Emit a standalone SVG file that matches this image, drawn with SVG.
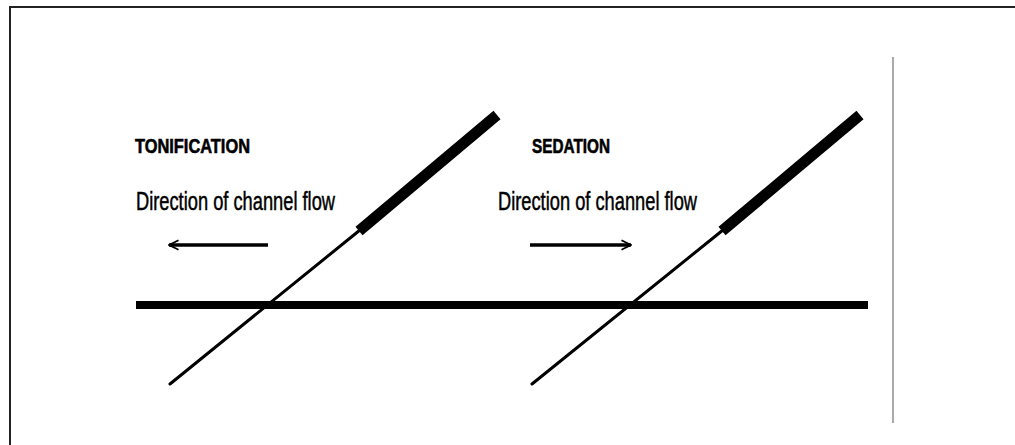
<svg xmlns="http://www.w3.org/2000/svg" width="1015" height="445" viewBox="0 0 1015 445">
  <defs>
    <style>
      .title { font-family: "Liberation Sans", Arial, sans-serif; font-weight: bold; font-size: 20px; fill: #000; stroke: #000; stroke-width: 0.6; }
      .label { font-family: "Liberation Sans", Arial, sans-serif; font-size: 26px; fill: #000; stroke: #000; stroke-width: 0.5; }
      .needle { stroke: #000; stroke-width: 3; stroke-linecap: round; }
      .handle { stroke: #000; stroke-width: 11; stroke-linecap: butt; }
      .flow { stroke: #000; stroke-width: 3.5; fill: none; }
    </style>
    <marker id="chev" viewBox="0 0 10 10" refX="9" refY="5" markerWidth="3.4" markerHeight="3.4" orient="auto-start-reverse" markerUnits="strokeWidth">
      <path d="M1,1 L9,5 L1,9" fill="none" stroke="#000" stroke-width="1.6"/>
    </marker>
  </defs>
  <rect width="1015" height="445" fill="#fff"/>
  <rect x="10" y="7" width="1020" height="460" fill="none" stroke="#222" stroke-width="2"/>
  <line x1="893" y1="57" x2="893" y2="423" stroke="#aaa" stroke-width="2"/>

  <g id="channel">
    <line x1="136" y1="305" x2="868" y2="305" stroke="#000" stroke-width="8"/>
  </g>

  <g id="tonification">
    <text class="title" x="135" y="153" textLength="115" lengthAdjust="spacingAndGlyphs">TONIFICATION</text>
    <text class="label" x="136" y="210" textLength="199" lengthAdjust="spacingAndGlyphs">Direction of channel flow</text>
  </g>
  <g id="needle-1">
    <line class="needle" x1="170" y1="384" x2="360" y2="230"/>
    <line class="handle" x1="359" y1="231" x2="497" y2="115"/>
  </g>

  <g id="sedation">
    <text class="title" x="532" y="153" textLength="78" lengthAdjust="spacingAndGlyphs">SEDATION</text>
    <text class="label" x="498" y="210" textLength="199" lengthAdjust="spacingAndGlyphs">Direction of channel flow</text>
  </g>
  <g id="needle-2">
    <line class="needle" x1="532" y1="384" x2="723" y2="230"/>
    <line class="handle" x1="722" y1="231" x2="860" y2="115"/>
  </g>

  <g id="connectors">
    <line class="flow" x1="268" y1="245" x2="169" y2="245" marker-end="url(#chev)"/>
    <line class="flow" x1="530" y1="245" x2="631" y2="245" marker-end="url(#chev)"/>
  </g>
</svg>
